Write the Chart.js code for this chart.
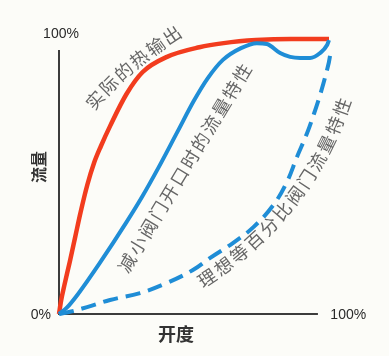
<!DOCTYPE html>
<html>
<head>
<meta charset="utf-8">
<script src="https://cdn.jsdelivr.net/npm/chart.js@4/dist/chart.umd.min.js"></script>
<style>
  html, body { margin: 0; padding: 0; background: #fcfcf8; }
  #wrap { width: 389px; height: 356px; }
</style>
</head>
<body>
<div id="wrap"><canvas id="c" width="389" height="356"></canvas></div>
<script>
// ---- data (percent opening -> percent flow) ----
const redX  = [0, 0.8, 2, 4, 6, 8, 10.5, 13, 15.5, 19, 25, 31, 40, 52, 61, 73, 86, 100];
const redY  = [0, 5, 10.5, 19, 28, 37, 47, 55, 61, 68.5, 80, 88, 93.5, 97, 98.5, 99.6, 100, 100];

const blueX = [0, 3, 7, 15, 25, 31, 37, 44, 50, 55, 60.7, 67.4, 73.3, 77, 81.9, 85.6, 89.3, 93, 96.7, 99.3, 100];
const blueY = [0, 2.4, 7.2, 18.4, 33.4, 43, 53.5, 66.5, 77.6, 85.6, 92.4, 96.7, 98.5, 98.2, 94.9, 93.5, 93.1, 93.1, 94.9, 97.8, 99.6];

const dashX = [0, 4, 10.4, 18.9, 30, 40, 49.6, 56, 64.4, 72, 79.3, 84.4, 88.1, 91.9, 94.5, 96.8, 98.8, 100.4, 100.4];
const dashY = [0, 0.8, 2.5, 5.1, 7.6, 11.3, 16, 20.4, 25.8, 31.6, 39.5, 48, 57, 65.8, 73, 80, 87, 94, 99];

const tickLabels = ['0%', '100%'];
const xTitle = '开度';
const yTitle = '流量';
const curveLabels = ['实际的热输出', '减小阀门开口时的流量特性', '理想等百分比阀门流量特性'];
// label paths in data coordinates: [start, control, end]
const labelPaths = [
  [[13.3, 77.8], [23.7, 89.6], [41.85, 101.45]],
  [[25.2, 18.5], [46.5, 53.1], [67.8, 87.6]],
  [[54.8, 13.1], [91.0, 37.0], [104.8, 75.3]]
];

const pts = (xs, ys) => xs.map((x, i) => ({ x, y: ys[i] }));

const bgPlugin = {
  id: 'bg',
  beforeDraw(chart) {
    const ctx = chart.ctx;
    ctx.save();
    ctx.fillStyle = '#fcfcf8';
    ctx.fillRect(0, 0, chart.width, chart.height);
    ctx.restore();
  }
};

const axesPlugin = {
  id: 'axesDraw',
  beforeDatasetsDraw(chart) {
    const ctx = chart.ctx, xs = chart.scales.x, ys = chart.scales.y;
    const x0 = xs.getPixelForValue(0), y0 = ys.getPixelForValue(0);
    ctx.save();
    ctx.strokeStyle = '#3c3c3c';
    ctx.lineWidth = 2;
    ctx.beginPath();
    ctx.moveTo(x0, ys.getPixelForValue(96));
    ctx.lineTo(x0, y0);
    ctx.lineTo(xs.getPixelForValue(95.9), y0);
    ctx.stroke();

    ctx.fillStyle = '#2a2a2a';
    ctx.font = '14px "Liberation Sans", Arial, sans-serif';
    ctx.textBaseline = 'middle';
    ctx.textAlign = 'right';
    ctx.fillText(tickLabels[0], x0 - 8, y0 + 1);
    ctx.textAlign = 'center';
    ctx.fillText(tickLabels[1], x0 + 2, ys.getPixelForValue(101.8));
    ctx.textAlign = 'left';
    ctx.fillText(tickLabels[1], xs.getPixelForValue(100.5), y0 + 1);

    ctx.fillStyle = '#333';
    ctx.font = 'bold 18px "Noto Sans CJK SC", sans-serif';
    ctx.textAlign = 'center';
    ctx.fillText(xTitle, xs.getPixelForValue(43.3), y0 + 20);
    ctx.save();
    ctx.translate(x0 - 20, ys.getPixelForValue(53.5));
    ctx.rotate(-Math.PI / 2);
    ctx.font = 'bold 16px "Noto Sans CJK SC", sans-serif';
    ctx.fillText(yTitle, 0, 0);
    ctx.restore();
    ctx.restore();
  }
};

const labelPlugin = {
  id: 'curveLabels',
  afterDatasetsDraw(chart) {
    const ctx = chart.ctx, xs = chart.scales.x, ys = chart.scales.y;
    ctx.save();
    ctx.fillStyle = '#666';
    ctx.font = '18px "Noto Sans CJK SC", sans-serif';
    ctx.textAlign = 'center';
    ctx.textBaseline = 'middle';
    labelPaths.forEach((path, li) => {
      const P = path.map(p => [xs.getPixelForValue(p[0]), ys.getPixelForValue(p[1])]);
      const N = 400, samples = [], cum = [0];
      for (let i = 0; i <= N; i++) {
        const t = i / N, a = (1 - t) * (1 - t), b = 2 * (1 - t) * t, c = t * t;
        samples.push([a * P[0][0] + b * P[1][0] + c * P[2][0], a * P[0][1] + b * P[1][1] + c * P[2][1], t]);
        if (i > 0) cum.push(cum[i - 1] + Math.hypot(samples[i][0] - samples[i - 1][0], samples[i][1] - samples[i - 1][1]));
      }
      const L = cum[N];
      const chars = Array.from(curveLabels[li]);
      chars.forEach((ch, k) => {
        const s = chars.length > 1 ? L * k / (chars.length - 1) : 0;
        let j = 0;
        while (j < N && cum[j] < s) j++;
        const t = samples[j][2];
        const dx = 2 * (1 - t) * (P[1][0] - P[0][0]) + 2 * t * (P[2][0] - P[1][0]);
        const dy = 2 * (1 - t) * (P[1][1] - P[0][1]) + 2 * t * (P[2][1] - P[1][1]);
        ctx.save();
        ctx.translate(samples[j][0], samples[j][1]);
        ctx.rotate(Math.atan2(dy, dx));
        ctx.fillText(ch, 0, 0);
        ctx.restore();
      });
    });
    ctx.restore();
  }
};

new Chart(document.getElementById('c'), {
  type: 'line',
  data: {
    datasets: [
      { data: pts(dashX, dashY), borderColor: '#1f8dd6', borderWidth: 4, borderDash: [15, 8], tension: 0.4, pointRadius: 0, clip: false, fill: false },
      { data: pts(blueX, blueY), borderColor: '#1f8dd6', borderWidth: 4, cubicInterpolationMode: 'monotone', pointRadius: 0, clip: false, fill: false },
      { data: pts(redX, redY), borderColor: '#f23c1e', borderWidth: 4.5, cubicInterpolationMode: 'monotone', pointRadius: 0, clip: false, fill: false }
    ]
  },
  options: {
    responsive: false,
    animation: false,
    layout: { padding: { left: 59, right: 60, top: 39, bottom: 42 } },
    plugins: { legend: { display: false }, tooltip: { enabled: false } },
    scales: {
      x: { type: 'linear', min: 0, max: 100, display: false },
      y: { type: 'linear', min: 0, max: 100, display: false }
    }
  },
  plugins: [bgPlugin, axesPlugin, labelPlugin]
});
</script>
</body>
</html>
